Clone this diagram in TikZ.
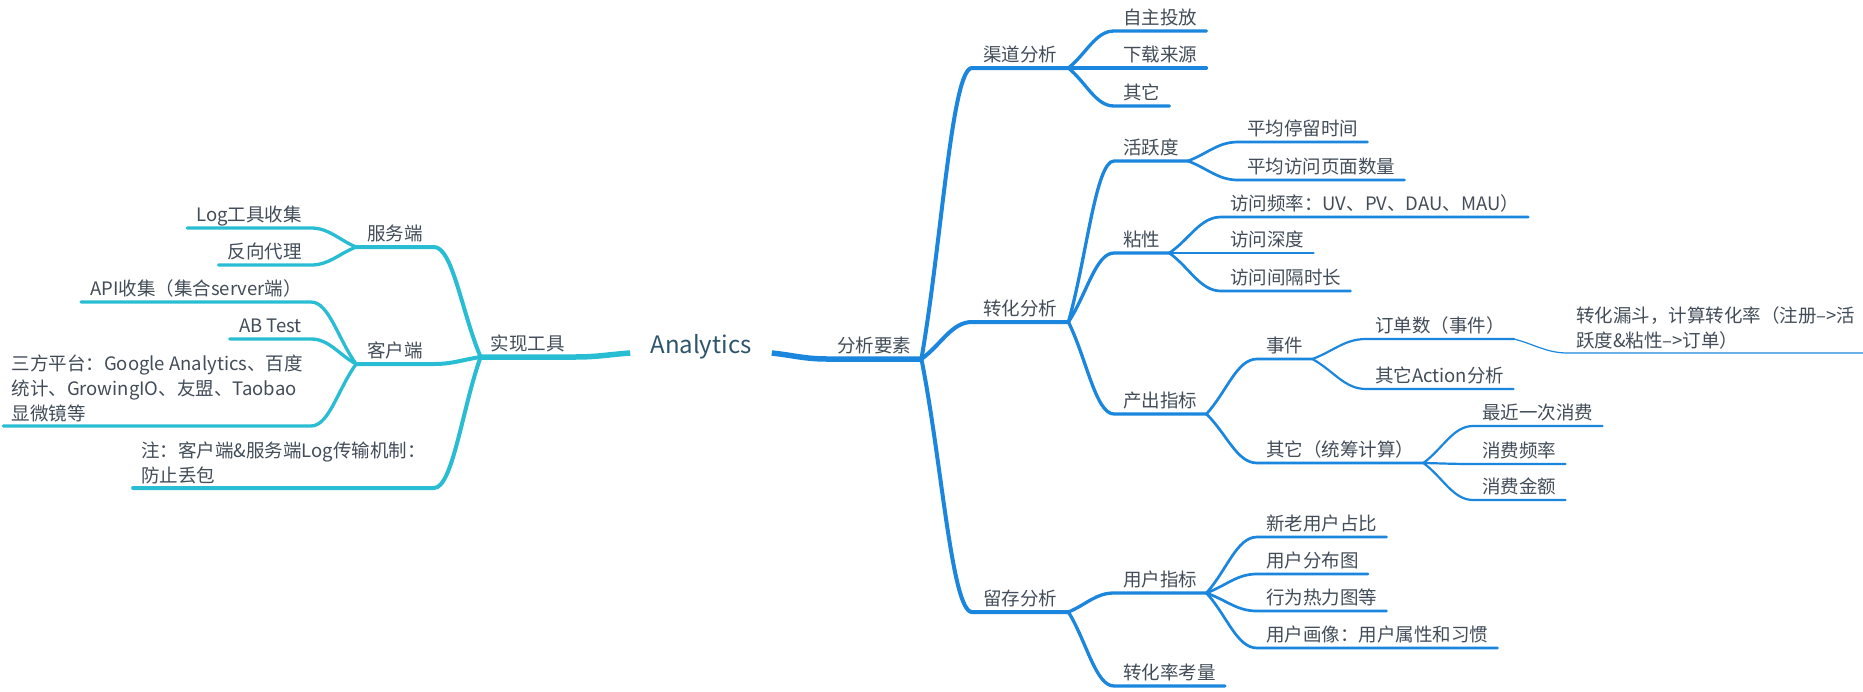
\documentclass[tikz,border=0pt]{standalone}
\usepackage{fontspec}
\setmainfont{Noto Sans CJK SC}
\usetikzlibrary{calc}
\definecolor{rline}{RGB}{27,134,222}
\definecolor{lline}{RGB}{41,189,211}
\definecolor{txt}{RGB}{66,77,89}
\definecolor{roottxt}{RGB}{45,86,108}
\tikzset{
  topic/.style={font=\fontsize{18.5pt}{25pt}\selectfont, text=txt, inner xsep=9pt, inner ysep=4pt},
  rt/.style={topic, anchor=south west, text depth=2pt},
  lt/.style={topic, anchor=south east, text depth=2pt},
  rnote/.style={topic, anchor=south west, align=left},
  lnote/.style={topic, anchor=south east, align=left},
  branch/.style={to path={.. controls ($(\tikztostart)!0.4!(\tikztotarget)$) and ($(\tikztotarget)!0.4!(\tikztotarget-|\tikztostart)$) .. (\tikztotarget) \tikztonodes}},
  r0/.style={draw=rline, line width=5.5pt},
  r1/.style={draw=rline, line width=4pt, line cap=round},
  r2/.style={draw=rline, line width=3.3pt, line cap=round},
  r3/.style={draw=rline, line width=2.7pt, line cap=round},
  r4/.style={draw=rline, line width=2.2pt, line cap=round},
  r5/.style={draw=rline, line width=1.2pt, line cap=round},
  l0/.style={draw=lline, line width=5.5pt},
  l1/.style={draw=lline, line width=4pt, line cap=round},
  l2/.style={draw=lline, line width=3.3pt, line cap=round}
}
\begin{document}
\begin{tikzpicture}[x=1pt, y=-1pt]
\fill[white] (0,0) rectangle (1863,691);
\useasboundingbox (0,0) rectangle (1863,691);

\node[font=\fontsize{24pt}{28pt}\selectfont, text=roottxt, anchor=base, inner xsep=20pt] (root) at (701,353) {Analytics};

\node[rt, inner xsep=10pt] (ana) at (827,359) {分析要素};
\node[rt, inner xsep=11pt] (qd) at (972,68) {渠道分析};
\node[rt, inner xsep=11pt] (zh) at (972,322) {转化分析};
\node[rt, inner xsep=11pt] (lc) at (972,612) {留存分析};
\node[rt] (zztf) at (1114,31) {自主投放};
\node[rt] (xzly) at (1114,68) {下载来源};
\node[rt] (qita) at (1114,106) {其它};
\node[rt] (hyd) at (1114,161) {活跃度};
\node[rt] (nx) at (1114,253) {粘性};
\node[rt] (cczb) at (1114,414) {产出指标};
\node[rt] (tlsj) at (1238,142) {平均停留时间};
\node[rt] (fwys) at (1238,180) {平均访问页面数量};
\node[rt] (fwpl) at (1221,217) {访问频率：UV、PV、DAU、MAU）};
\node[rt] (fwsd) at (1221,253) {访问深度};
\node[rt] (fwjg) at (1221,291) {访问间隔时长};
\node[rt] (sj) at (1257,359) {事件};
\node[rt] (tcjs) at (1257,463) {其它（统筹计算）};
\node[rt] (dds) at (1366,339) {订单数（事件）};
\node[rt] (action) at (1366,389) {其它Action分析};
\node[rnote, inner xsep=8pt] (loudou) at (1568,353) {转化漏斗，计算转化率（注册–>活\\跃度\&粘性–>订单）};
\node[rt] (zjxf) at (1473,426) {最近一次消费};
\node[rt] (xfpl) at (1473,464) {消费频率};
\node[rt] (xfje) at (1473,500) {消费金额};
\node[rt] (yhzb) at (1114,593) {用户指标};
\node[rt] (zhlv) at (1114,686) {转化率考量};
\node[rt] (xlyh) at (1257,537) {新老用户占比};
\node[rt] (yhfb) at (1257,574) {用户分布图};
\node[rt] (rlt) at (1257,611) {行为热力图等};
\node[rt] (yhhx) at (1257,648) {用户画像：用户属性和习惯};

\node[lt, inner xsep=10pt] (sxgj) at (575,357) {实现工具};
\node[lt, inner xsep=11pt] (fwd) at (434,247) {服务端};
\node[lt, inner xsep=11pt] (khd) at (434,364) {客户端};
\node[lnote, inner xsep=8pt] (zhu) at (434,488) {注：客户端\&服务端Log传输机制：\\防止丢包};
\node[lt] (logsj) at (311,228) {Log工具收集};
\node[lt] (fxdl) at (311,265) {反向代理};
\node[lt] (apisj) at (311,302) {API收集（集合server端）};
\node[lt] (abt) at (311,339) {AB Test};
\node[lnote, inner xsep=8pt] (sfpt) at (311,426) {三方平台：Google Analytics、百度\\统计、GrowingIO、友盟、Taobao\\显微镜等};

\draw[r0] (root.base east) to[branch] (ana.south west) -- (ana.south east);
\draw[r1] (ana.south east) to[branch] (qd.south west) -- (qd.south east);
\draw[r1] (ana.south east) to[branch] (zh.south west) -- (zh.south east);
\draw[r1] (ana.south east) to[branch] (lc.south west) -- (lc.south east);
\draw[r2] (qd.south east) to[branch] (zztf.south west) -- (zztf.south east);
\draw[r2] (qd.south east) to[branch] (xzly.south west) -- (xzly.south east);
\draw[r2] (qd.south east) to[branch] (qita.south west) -- (qita.south east);
\draw[r2] (zh.south east) to[branch] (hyd.south west) -- (hyd.south east);
\draw[r2] (zh.south east) to[branch] (nx.south west) -- (nx.south east);
\draw[r2] (zh.south east) to[branch] (cczb.south west) -- (cczb.south east);
\draw[r3] (hyd.south east) to[branch] (tlsj.south west) -- (tlsj.south east);
\draw[r3] (hyd.south east) to[branch] (fwys.south west) -- (fwys.south east);
\draw[r3] (nx.south east) to[branch] (fwpl.south west) -- (fwpl.south east);
\draw[r3] (nx.south east) to[branch] (fwsd.south west) -- (fwsd.south east);
\draw[r3] (nx.south east) to[branch] (fwjg.south west) -- (fwjg.south east);
\draw[r3] (cczb.south east) to[branch] (sj.south west) -- (sj.south east);
\draw[r3] (cczb.south east) to[branch] (tcjs.south west) -- (tcjs.south east);
\draw[r4] (sj.south east) to[branch] (dds.south west) -- (dds.south east);
\draw[r4] (sj.south east) to[branch] (action.south west) -- (action.south east);
\draw[r5] (dds.south east) to[branch] (loudou.south west) -- (loudou.south east);
\draw[r4] (tcjs.south east) to[branch] (zjxf.south west) -- (zjxf.south east);
\draw[r4] (tcjs.south east) to[branch] (xfpl.south west) -- (xfpl.south east);
\draw[r4] (tcjs.south east) to[branch] (xfje.south west) -- (xfje.south east);
\draw[r2] (lc.south east) to[branch] (yhzb.south west) -- (yhzb.south east);
\draw[r2] (lc.south east) to[branch] (zhlv.south west) -- (zhlv.south east);
\draw[r3] (yhzb.south east) to[branch] (xlyh.south west) -- (xlyh.south east);
\draw[r3] (yhzb.south east) to[branch] (yhfb.south west) -- (yhfb.south east);
\draw[r3] (yhzb.south east) to[branch] (rlt.south west) -- (rlt.south east);
\draw[r3] (yhzb.south east) to[branch] (yhhx.south west) -- (yhhx.south east);

\draw[l0] (root.base west) to[branch] (sxgj.south east) -- (sxgj.south west);
\draw[l1] (sxgj.south west) to[branch] (fwd.south east) -- (fwd.south west);
\draw[l1] (sxgj.south west) to[branch] (khd.south east) -- (khd.south west);
\draw[l1] (sxgj.south west) to[branch] (zhu.south east) -- (zhu.south west);
\draw[l2] (fwd.south west) to[branch] (logsj.south east) -- (logsj.south west);
\draw[l2] (fwd.south west) to[branch] (fxdl.south east) -- (fxdl.south west);
\draw[l2] (khd.south west) to[branch] (apisj.south east) -- (apisj.south west);
\draw[l2] (khd.south west) to[branch] (abt.south east) -- (abt.south west);
\draw[l2] (khd.south west) to[branch] (sfpt.south east) -- (sfpt.south west);
\end{tikzpicture}
\end{document}
